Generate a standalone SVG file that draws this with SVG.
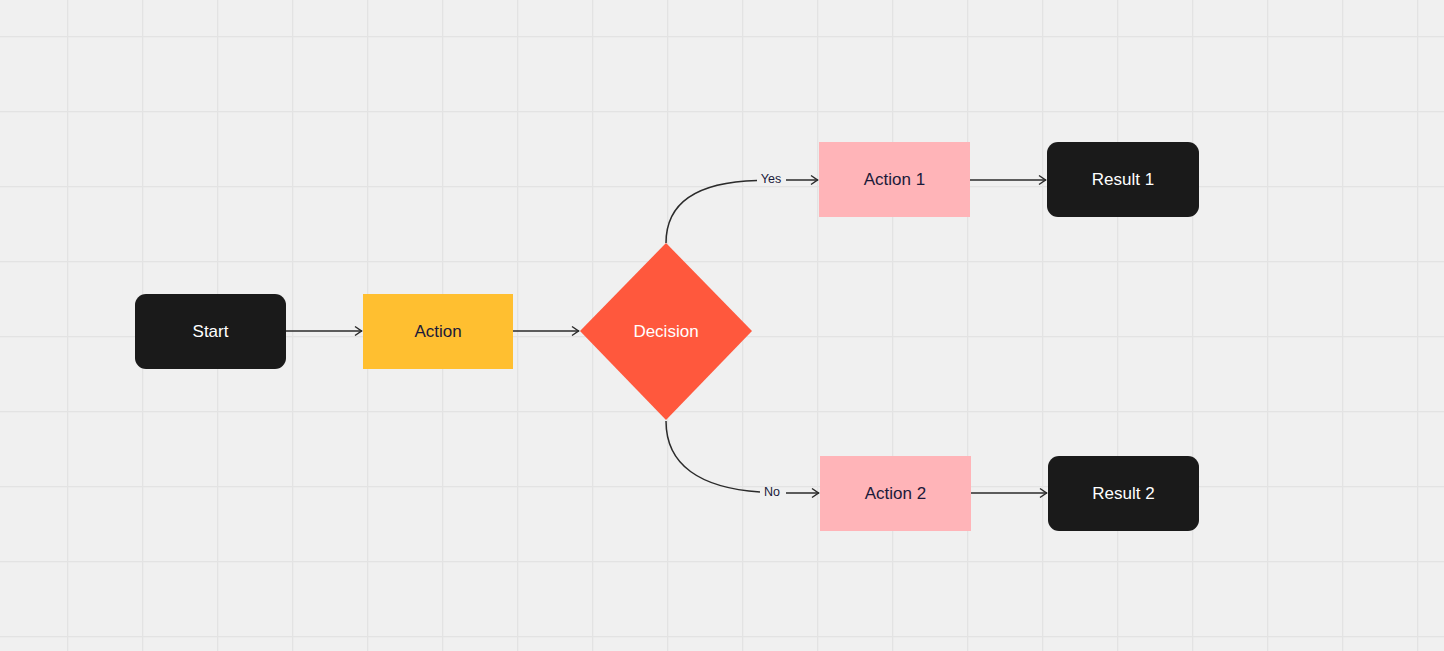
<svg xmlns="http://www.w3.org/2000/svg" width="1444" height="651" viewBox="0 0 1444 651">
<defs>
<pattern id="grid" x="0" y="0" width="75" height="75" patternUnits="userSpaceOnUse" patternTransform="translate(67 36)">
<rect width="75" height="75" fill="#f0f0f0"/>
<path d="M0.5 0V75M0 0.5H75" stroke="#e3e3e3" stroke-width="1.5" fill="none"/>
</pattern>
<marker id="arr" viewBox="0 0 12 12" refX="11" refY="6" markerWidth="12" markerHeight="12" markerUnits="userSpaceOnUse" orient="auto">
<path d="M4 1.5L10.5 6L4 10.5" fill="none" stroke="#2b2b2b" stroke-width="1.5"/>
</marker>
</defs>
<style>
.lbl{font-family:"Liberation Sans",Arial,sans-serif;font-size:17px;text-anchor:middle;dominant-baseline:central}
.w{fill:#ffffff}
.d{fill:#1b1a3a}
.edge{fill:none;stroke:#2b2b2b;stroke-width:1.5}
.el{font-family:"Liberation Sans",Arial,sans-serif;font-size:12.5px;fill:#1b1a3a;text-anchor:middle;dominant-baseline:central}
</style>
<rect width="1444" height="651" fill="url(#grid)"/>
<g id="connectors">
<path class="edge" d="M286 331H362" marker-end="url(#arr)"/>
<path class="edge" d="M513 331H579" marker-end="url(#arr)"/>
<path class="edge" d="M666 243C666 200 700 182 757 180.5"/>
<path class="edge" d="M786 180H818" marker-end="url(#arr)"/>
<text class="el" x="771" y="179">Yes</text>
<path class="edge" d="M666 421C666 465 700 488 760 492"/>
<path class="edge" d="M786 493H819" marker-end="url(#arr)"/>
<text class="el" x="772" y="492">No</text>
<path class="edge" d="M970 180H1046" marker-end="url(#arr)"/>
<path class="edge" d="M971 493H1047" marker-end="url(#arr)"/>
</g>
<g id="start">
<rect x="135" y="294" width="151" height="75" rx="11" fill="#1a1a1a"/>
<text class="lbl w" x="210.5" y="331">Start</text>
</g>
<g id="action">
<rect x="363" y="294" width="150" height="75" fill="#ffbf30"/>
<text class="lbl d" x="438" y="331">Action</text>
</g>
<g id="decision">
<path d="M666 243L752 331L666 420L580 331Z" fill="#ff583d"/>
<text class="lbl w" x="666" y="331">Decision</text>
</g>
<g id="action1">
<rect x="819" y="142" width="151" height="75" fill="#ffb4b8"/>
<text class="lbl d" x="894.5" y="179">Action 1</text>
</g>
<g id="action2">
<rect x="820" y="456" width="151" height="75" fill="#ffb4b8"/>
<text class="lbl d" x="895.5" y="493">Action 2</text>
</g>
<g id="result1">
<rect x="1047" y="142" width="152" height="75" rx="11" fill="#1a1a1a"/>
<text class="lbl w" x="1123" y="179">Result 1</text>
</g>
<g id="result2">
<rect x="1048" y="456" width="151" height="75" rx="11" fill="#1a1a1a"/>
<text class="lbl w" x="1123.5" y="493">Result 2</text>
</g>
</svg>
